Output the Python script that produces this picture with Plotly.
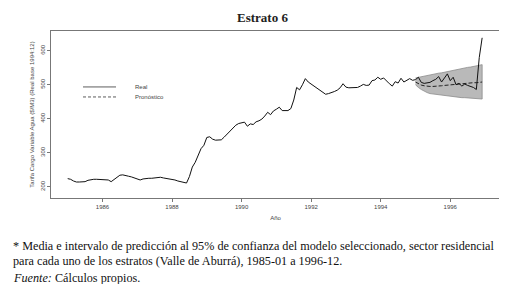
import numpy as np
import plotly.graph_objects as go

# ---- data (monthly, 1985-01 .. 1996-12) ----
start_year = 1985
real = [
    224, 222, 217, 214, 214, 214, 215, 219, 221, 222, 222, 221,   # 1985
    220, 221, 220, 215, 222, 229, 234, 235, 234, 231, 229, 226,   # 1986
    223, 220, 223, 225, 225, 225, 226, 228, 228, 226, 225, 223,   # 1987
    221, 220, 217, 215, 213, 211, 230, 258, 272, 292, 312, 322,   # 1988
    345, 347, 340, 337, 337, 338, 346, 355, 364, 372, 381, 386,   # 1989
    387, 390, 378, 385, 383, 391, 394, 399, 408, 419, 412, 423,   # 1990
    428, 434, 424, 424, 424, 430, 455, 492, 485, 500, 518, 508,   # 1991
    502, 494, 490, 482, 478, 472, 474, 476, 480, 484, 491, 503,   # 1992
    493, 491, 492, 493, 492, 496, 501, 498, 499, 512, 514, 522,   # 1993
    516, 520, 510, 503, 496, 509, 505, 519, 508, 513, 518, 513,   # 1994
    515, 522, 507, 504, 506, 507, 512, 516, 524, 508, 520, 532,   # 1995
    512, 522, 500, 504, 496, 502, 498, 495, 492, 486, 580, 638,   # 1996
]
forecast_start = 120  # index of 1995-01
fc_mean = [508, 503, 499, 497, 495, 495, 495, 495, 496, 497, 498, 499,
           500, 501, 502, 503, 504, 504, 505, 505, 506, 506, 507, 508]
fc_upper = [520, 522, 523, 525, 527, 529, 530, 532, 534, 535, 537, 539,
            540, 542, 544, 545, 547, 549, 551, 552, 554, 556, 557, 559]
fc_lower = [500, 492, 486, 481, 477, 474, 472, 470, 469, 468, 467, 466,
            465, 464, 464, 463, 462, 462, 461, 460, 460, 459, 459, 458]
x_ticks = [1986, 1988, 1990, 1992, 1994, 1996]
y_ticks = [200, 300, 400, 500, 600]
legend_labels = ["Real", "Pronóstico"]

t = start_year + np.arange(len(real)) / 12.0
tf = t[forecast_start:forecast_start + len(fc_mean)]

fig = go.Figure()
fig.add_trace(go.Scatter(
    x=np.concatenate([tf, tf[::-1]]),
    y=fc_upper + fc_lower[::-1],
    fill="toself", fillcolor="rgb(185,185,185)",
    line=dict(color="rgb(140,140,140)", width=0.8),
    mode="lines", hoverinfo="skip", showlegend=False))
fig.add_trace(go.Scatter(x=tf, y=fc_mean, mode="lines",
                         line=dict(color="#222", width=1, dash="4px,2px"),
                         showlegend=False))
fig.add_trace(go.Scatter(x=t, y=real, mode="lines",
                         line=dict(color="#111", width=1.0),
                         showlegend=False))

axis_font = dict(family="Liberation Sans, Arial", size=6, color="#444")
fig.update_layout(
    width=507, height=284,
    margin=dict(l=43, r=15, t=23, b=94),
    paper_bgcolor="white", plot_bgcolor="white",
    showlegend=False,
    xaxis=dict(range=[1984.52, 1997.43], tickvals=x_ticks,
               ticktext=[str(v) for v in x_ticks],
               ticks="outside", ticklen=3, tickcolor="#777", tickwidth=0.8,
               showline=True, linecolor="#777", linewidth=1, mirror=True,
               showgrid=False, zeroline=False, tickfont=axis_font,
               title=dict(text="Año", font=axis_font, standoff=6)),
    yaxis=dict(range=[167, 658], tickvals=y_ticks,
               ticks="outside", ticklen=3, tickcolor="#777", tickwidth=0.8,
               showline=True, linecolor="#777", linewidth=1, mirror=True,
               showgrid=False, zeroline=False, tickfont=axis_font,
               tickangle=-90,
               title=dict(text="Tarifa Cargo Variable Agua ($/M3) (Real base 1994:12)",
                          font=axis_font, standoff=4)),
)

# title
fig.add_annotation(text="<b>Estrato 6</b>", xref="paper", yref="paper",
                   x=0.47, y=1, yshift=14, showarrow=False,
                   font=dict(family="Liberation Serif", size=13, color="#222"),
                   yanchor="middle")

# legend drawn manually
fig.add_shape(type="line", xref="paper", yref="paper", x0=0.0713, x1=0.1448,
              y0=0.665, y1=0.665, line=dict(color="#333", width=0.8))
fig.add_shape(type="line", xref="paper", yref="paper", x0=0.0713, x1=0.1448,
              y0=0.605, y1=0.605, line=dict(color="#333", width=0.8, dash="3px,2px"))
for lab, yy in zip(legend_labels, [0.665, 0.605]):
    fig.add_annotation(text=lab, xref="paper", yref="paper", x=0.182, y=yy,
                       xanchor="left", yanchor="middle", showarrow=False,
                       font=axis_font)

# caption
cap_font = dict(family="Liberation Serif", size=12.2, color="#111")
caption = [
    ("* Media e intervalo de predicción al 95% de confianza del modelo seleccionado, sector residencial", 238),
    ("para cada uno de los estratos (Valle de Aburrá), 1985-01 a 1996-12.", 253),
    ("<i>Fuente:</i> Cálculos propios.", 270),
]
for txt, ypix in caption:
    fig.add_annotation(text=txt, xref="paper", yref="paper",
                       x=(3 - 43) / 449, y=(190 - ypix) / 167,
                       xanchor="left", yanchor="middle", showarrow=False,
                       font=cap_font)

fig.write_html("out.html")
